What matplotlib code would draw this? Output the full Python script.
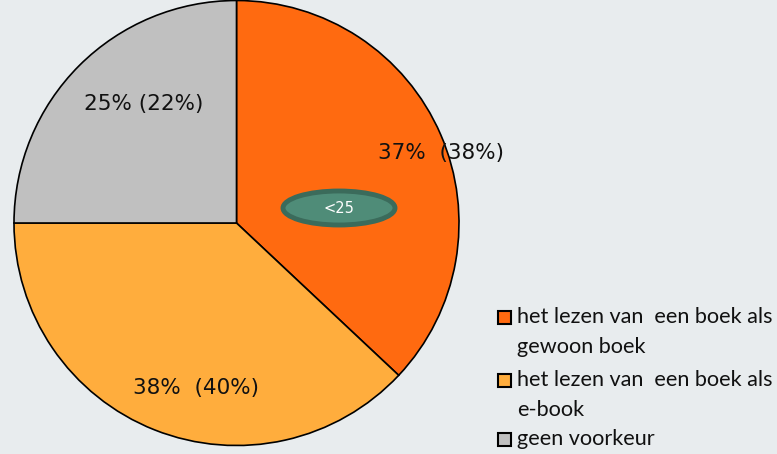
import matplotlib
matplotlib.use("Agg")
import matplotlib.pyplot as plt
from matplotlib.patches import Rectangle, Ellipse

categories = ["het lezen van  een boek als\ngewoon boek",
              "het lezen van  een boek als\ne-book",
              "geen voorkeur"]
values = [37, 38, 25]
comparison = [38, 40, 22]
colors = ["#ff6a10", "#ffad3d", "#c0c0c0"]
badge_text = "<25"

W, H = 777, 454
fig = plt.figure(figsize=(W / 100, H / 100), dpi=100)
bg = "#e8ecee"
fig.patch.set_facecolor(bg)

cx, cy, r = 236.5, 223, 222.5
ax = fig.add_axes([(cx - r) / W, (H - cy - r) / H, 2 * r / W, 2 * r / H])
ax.set_facecolor("none")
wedges, _ = ax.pie(values, colors=colors, startangle=90, counterclock=False,
                   wedgeprops=dict(edgecolor="black", linewidth=1.2))
ax.set_xlim(-1, 1)
ax.set_ylim(-1, 1)
ax.set_aspect("auto")
ax.axis("off")

label_pos = [((441 - cx) / r, (cy - 153) / r),
             ((196 - cx) / r, (cy - 388) / r),
             ((144 - cx) / r, (cy - 104) / r)]
for v, c, (lx, ly) in zip(values, comparison, label_pos):
    ax.text(lx, ly, f"{v}%  ({c}%)" if v != 25 else f"{v}% ({c}%)",
            ha="center", va="center", fontsize=15.5, family="DejaVu Sans",
            color="#111111")

ex, ey = (339 - cx) / r, (cy - 208) / r
ax.add_patch(Ellipse((ex, ey), 112 / r, 34 / r, facecolor="#4f8c78",
                     edgecolor="#3b6b5b", linewidth=3.5, zorder=5))
ax.text(ex, ey, badge_text, ha="center", va="center", fontsize=10.5,
        color="white", zorder=6, family="DejaVu Sans")

y_tops = [317, 380, 439]
for cat, col, yt in zip(categories, colors, y_tops):
    fig.add_artist(Rectangle((498 / W, (H - yt - 7) / H), 13 / W, 13 / H,
                             transform=fig.transFigure, facecolor=col,
                             edgecolor="black", linewidth=1.5))
    lines = cat.split("\n")
    for i, line in enumerate(lines):
        fig.text(517 / W, (H - yt - i * 30) / H, line, ha="left", va="center",
                 fontsize=15.6, family="Lato", color="#111111")

fig.savefig("out.png", dpi=100, facecolor=bg)
